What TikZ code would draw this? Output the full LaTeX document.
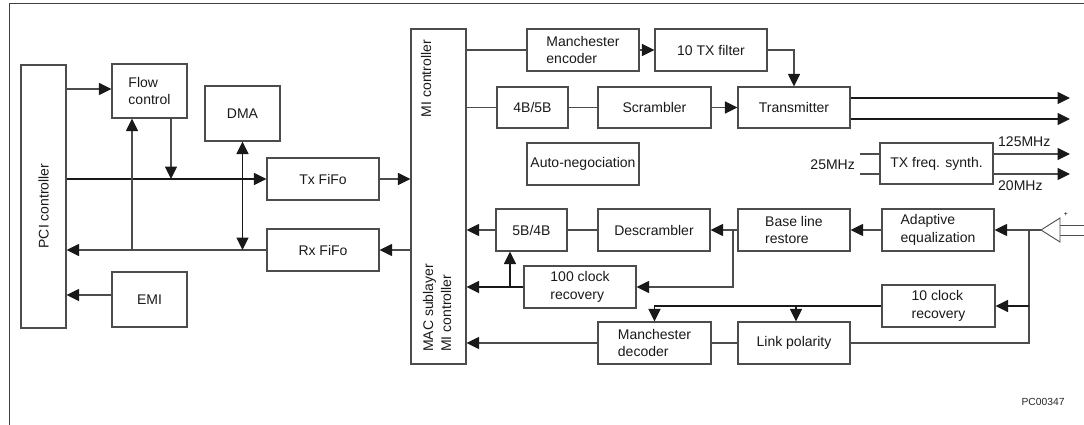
\documentclass[tikz,border=0pt]{standalone}
\usepackage{fontspec}
\setmainfont{Liberation Sans}
\usetikzlibrary{arrows.meta}
\begin{document}
\begin{tikzpicture}[x=1pt,y=-1pt,
  box/.style={draw=black!70, line width=1.1pt, inner sep=0pt, align=left, text=black!90,
    font=\fontsize{14}{17.5}\selectfont},
  lbl/.style={inner sep=0pt, text=black!90, font=\fontsize{14}{17.5}\selectfont},
  ln/.style={draw=black!70, line width=1.1pt},
  dk/.style={draw=black!90, line width=1.2pt},
  thk/.style={draw=black!90, line width=1.7pt},
  arr/.style={-{Triangle[length=12.5pt,width=12pt,color=black!90,fill=black!90]}},
  arrb/.style={{Triangle[length=12.5pt,width=12pt,color=black!90,fill=black!90]}-{Triangle[length=12.5pt,width=12pt,color=black!90,fill=black!90]}}]
\useasboundingbox (0,0) rectangle (1084,425);
% frame
\draw[draw=black!75, line width=1.5pt] (9.5,425) -- (9.5,3.5) -- (1084,3.5);
% left part
\node[box, minimum width=45pt, minimum height=263pt] (pci) at (43.5,196.5) {};
\node[lbl, rotate=90] (pcit) at (43.5,206) {PCI controller};
\node[box, minimum width=75pt, minimum height=54pt] (flow) at (149.5,91) {Flow\\control};
\node[box, minimum width=75pt, minimum height=55pt] (dma) at (242.5,113.5) {DMA};
\node[box, minimum width=112pt, minimum height=42pt] (txf) at (323,179) {Tx FiFo};
\node[box, minimum width=112pt, minimum height=42pt] (rxf) at (323,250) {Rx FiFo};
\node[box, minimum width=75pt, minimum height=55pt] (emi) at (149.5,299.5) {EMI};
% MI controller
\node[box, minimum width=55pt, minimum height=335pt] (mi) at (438.5,196.5) {};
\node[lbl, rotate=90] (mit) at (426,78.5) {MI controller};
\node[lbl, rotate=90, anchor=west, align=left, font=\fontsize{14}{18}\selectfont] (mact) at (437,352) {MAC sublayer\\MI controller};
% transmit side
\node[box, minimum width=112pt, minimum height=42pt] (menc) at (583,50) {Manchester\\encoder};
\node[box, minimum width=112pt, minimum height=42pt] (txfil) at (711,50) {10 TX filter};
\node[box, minimum width=71pt, minimum height=41pt] (b45) at (532.5,107.5) {4B/5B};
\node[box, minimum width=113pt, minimum height=41pt] (scr) at (654.5,107.5) {Scrambler};
\node[box, minimum width=112pt, minimum height=41pt] (tx) at (794,107.5) {Transmitter};
\node[box, minimum width=112pt, minimum height=42pt] (auto) at (583,164) {Auto-negociation};
\node[box, minimum width=113pt, minimum height=41pt] (synth) at (936.5,163.5) {TX freq. synth.};
% receive side
\node[box, minimum width=71pt, minimum height=42pt] (b54) at (531.5,230) {5B/4B};
\node[box, minimum width=112pt, minimum height=42pt] (desc) at (654,230) {Descrambler};
\node[box, minimum width=112pt, minimum height=42pt] (blr) at (794,230) {Base line\\restore};
\node[box, minimum width=112pt, minimum height=42pt] (adapt) at (938,230) {Adaptive\\equalization};
\node[box, minimum width=112pt, minimum height=42pt] (clk100) at (580,287) {100 clock\\recovery};
\node[box, minimum width=113pt, minimum height=42pt] (clk10) at (938.5,306) {10 clock\\recovery};
\node[box, minimum width=113pt, minimum height=42pt] (mdec) at (654.5,343) {Manchester\\decoder};
\node[box, minimum width=112pt, minimum height=42pt] (link) at (794,343) {Link polarity};
% receiver triangle
\coordinate (tri) at (1041,230);
\draw[ln, line width=0.9pt] (1060,218) -- (tri) -- (1060,242) -- cycle;
\coordinate (rin1) at (1084,225);
\coordinate (rin2) at (1084,235);
\draw[ln, line width=0.9pt] (1060,225) -- (rin1);
\draw[ln, line width=0.9pt] (1060,235) -- (rin2);
\node[inner sep=0pt, font=\fontsize{7}{7}\selectfont] (plus) at (1066,214) {+};
% labels
\node[lbl, anchor=east] (l25) at (855,165) {25MHz};
\node[lbl, anchor=west] (l125) at (998,142) {125MHz};
\node[lbl, anchor=west] (l20) at (998,186) {20MHz};
\node[inner sep=0pt, text=black!85, font=\fontsize{10.3}{12}\selectfont] (pcn) at (1043,402) {PC00347};
% coordinates
\coordinate (o1) at (1070,98);
\coordinate (o2) at (1070,119);
\coordinate (o3) at (1070,154);
\coordinate (o4) at (1070,174);
\coordinate (i1) at (860,154);
\coordinate (i2) at (860,174);
\coordinate (j1) at (171,179);
\coordinate (j2) at (132,250);
\coordinate (j3) at (733,230);
\coordinate (j4) at (510,287);
\coordinate (j5) at (1029,230);
\coordinate (j6) at (1029,306);
\coordinate (j7) at (796,306);
% left connectors
\draw[ln, arr] (pci.east |- 0,89) -- (flow.west |- 0,89);
\draw[ln, arr] (flow.south -| j1) -- (j1);
\draw[dk, arr] (pci.east |- txf.west) -- (txf.west);
\draw[ln, arr] (txf.east) -- (txf.east -| mi.west);
\draw[ln, arr] (rxf.east -| mi.west) -- (rxf.east);
\draw[ln, arr] (rxf.west) -- (rxf.west -| pci.east);
\draw[ln, arr] (j2) -- (flow.south -| j2);
\draw[dk, arrb] (dma.south) -- (dma.south |- rxf.west);
\draw[ln, arr] (emi.west |- 0,295) -- (pci.east |- 0,295);
% transmit connectors
\draw[ln] (mi.east |- menc.west) -- (menc.west);
\draw[ln, arr] (menc.east) -- (txfil.west);
\draw[ln, arr] (txfil.east) -| (tx.north);
\draw[ln] (mi.east |- b45.west) -- (b45.west);
\draw[ln] (b45.east) -- (scr.west);
\draw[ln, arr] (scr.east) -- (tx.west);
\draw[dk, arr] (tx.east |- o1) -- (o1);
\draw[dk, arr] (tx.east |- o2) -- (o2);
\draw[ln] (i1) -- (synth.west |- i1);
\draw[ln] (i2) -- (synth.west |- i2);
\draw[ln, arr] (synth.east |- o3) -- (o3);
\draw[ln, arr] (synth.east |- o4) -- (o4);
% receive connectors
\draw[ln, arr] (b54.west) -- (b54.west -| mi.east);
\draw[ln] (desc.west) -- (b54.east);
\draw[ln, arr] (blr.west) -- (desc.east);
\draw[ln, arr] (j3) |- (clk100.east);
\draw[thk, arr] (clk100.west) -- (clk100.west -| mi.east);
\draw[thk, arr] (j4) -- (b54.south -| j4);
\draw[ln, arr] (adapt.west) -- (blr.east);
\draw[ln, arr] (tri) -- (adapt.east);
\draw[ln] (j5) |- (link.east);
\draw[thk, arr] (j6) -- (clk10.east);
\draw[thk, arr] (clk10.west) -| (mdec.north);
\draw[thk, arr] (j7) -- (link.north -| j7);
\draw[ln] (link.west) -- (mdec.east);
\draw[ln, arr] (mdec.west) -- (mdec.west -| mi.east);
\end{tikzpicture}
\end{document}
